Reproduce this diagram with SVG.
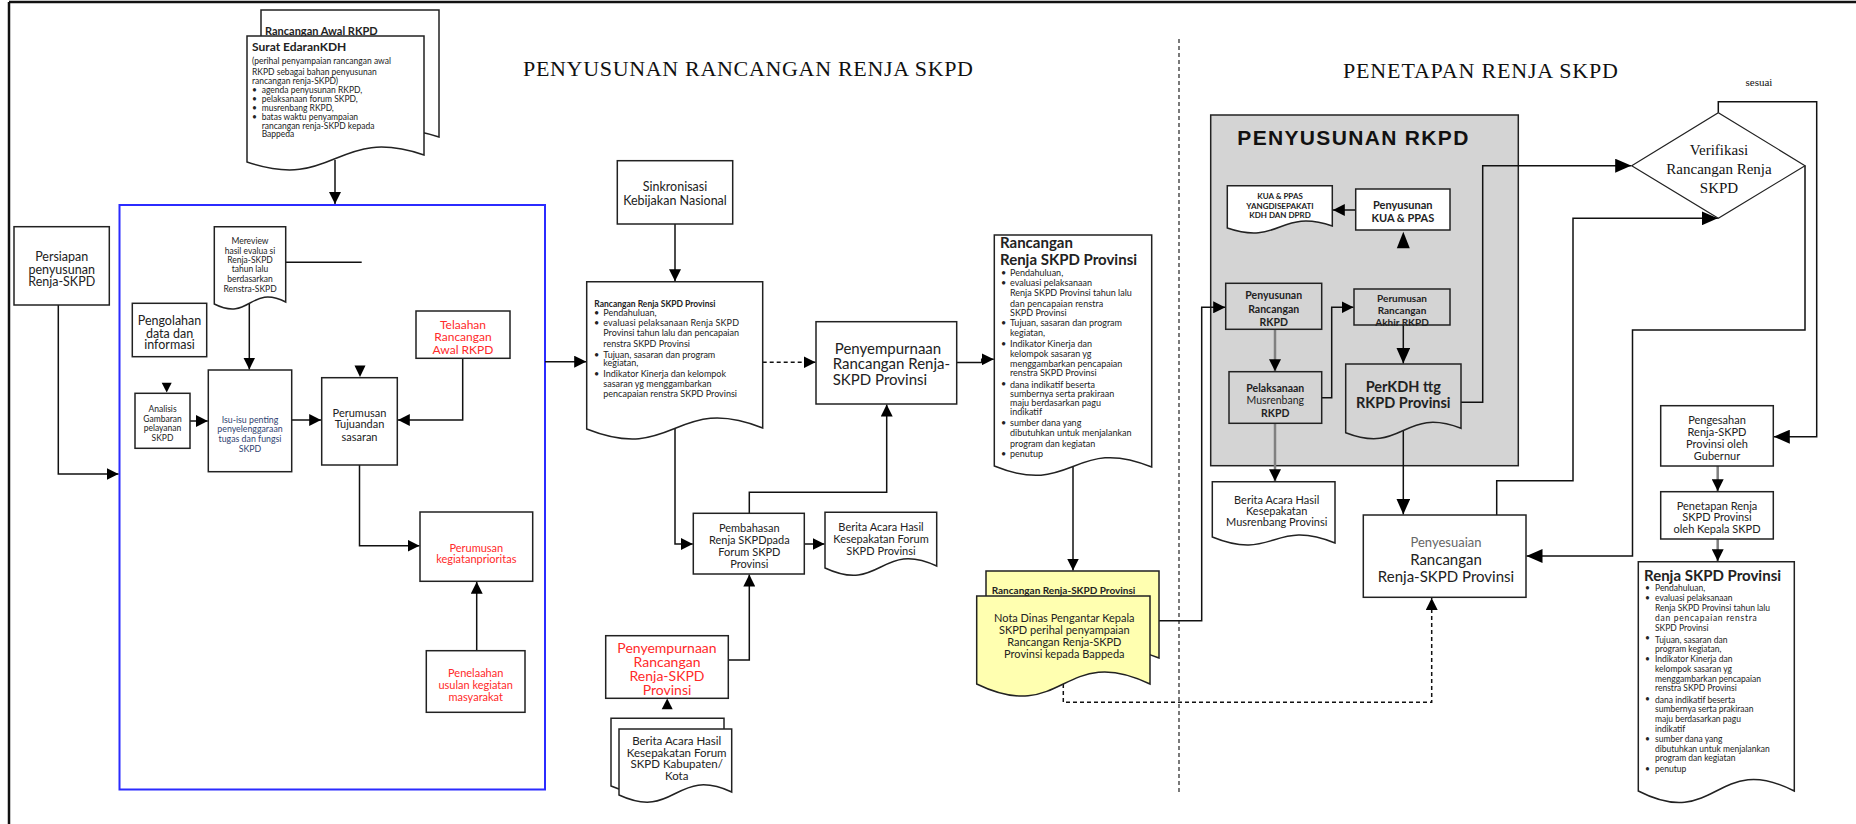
<svg xmlns="http://www.w3.org/2000/svg" width="1856" height="824" viewBox="0 0 1856 824">
<defs>
<marker id="ah" markerUnits="userSpaceOnUse" markerWidth="12" markerHeight="12" refX="12" refY="6" orient="auto"><path d="M0,0 L12,6 L0,12 Z" fill="#000"/></marker>
<marker id="ahb" markerUnits="userSpaceOnUse" markerWidth="16" markerHeight="14" refX="16" refY="7" orient="auto"><path d="M0,0 L16,7 L0,14 Z" fill="#000"/></marker>
<style>
.bx{fill:#fff;stroke:#222;stroke-width:1.5}
.gb{fill:#d4d4d4;stroke:#222;stroke-width:1.5}
.yl{fill:#ffffb0;stroke:#222;stroke-width:1.5}
.ln{fill:none;stroke:#111;stroke-width:1.5}
.gl{fill:none;stroke:#808080;stroke-width:2.5}
.ar{marker-end:url(#ah)}
.arb{marker-end:url(#ahb)}
.ds{stroke-dasharray:4 3}
.ah{fill:#000}
.s{font-family:Lato,"Liberation Sans",sans-serif;fill:#222}
.c{text-anchor:middle}
.b{font-weight:700}
.red{fill:#ff2a2a}
.ser{font-family:"Liberation Serif","Times New Roman",serif;fill:#111}
</style>
</defs>
<rect x="0" y="0" width="1856" height="824" fill="#fff"/>
<g id="frame" fill="none" stroke="#111">
<path d="M9,2 H1856" stroke-width="2.5"/>
<path d="M9,2 V824" stroke-width="2.5"/>
</g>
<g id="titles">
<text class="ser" x="523" y="76" font-size="22" textLength="450" lengthAdjust="spacing">PENYUSUNAN RANCANGAN RENJA SKPD</text>
<text class="ser" x="1343" y="77.7" font-size="22" textLength="275" lengthAdjust="spacing">PENETAPAN RENJA SKPD</text>
<path d="M1179,39 V793" fill="none" stroke="#222" stroke-width="1.2" stroke-dasharray="4 3"/>
</g>
<g id="n-blue"><rect x="119.5" y="205" width="425.5" height="584.5" fill="none" stroke="#2b2bff" stroke-width="2"/></g>
<g id="n-rkpd">
<rect class="gb" x="1210.7" y="115" width="307.6" height="350.7"/>
<text x="1237.3" y="145" font-family="'Liberation Sans',Arial,sans-serif" font-weight="700" font-size="21" fill="#111" textLength="231" lengthAdjust="spacing">PENYUSUNAN  RKPD</text>
</g>
<g id="connectors">
<path class="ln ar" d="M335,160 V204"/>
<path class="ln ar" d="M58.3,305 V474 H118.5"/>
<path class="ln" d="M285.7,262.3 H361.7"/>
<path class="ln ar" d="M249.3,304 V369.5"/>
<path class="ln ar" d="M190,421 H207.8"/>
<path class="ln ar" d="M291.7,420 H321.2"/>
<path class="ln ar" d="M462.7,358.3 V420 H397.8"/>
<path class="ln ar" d="M359.5,465 V545.7 H419.5"/>
<path class="ln ar" d="M476.7,650.7 V581.8"/>
<path class="ln ar" d="M545,361.7 H586.2"/>
<path class="ln ar" d="M675,224 V281.2"/>
<path class="ln ar ds" d="M762.7,362.3 H815.5"/>
<path class="ln ar" d="M956.7,362.5 H981.7 V359.3 H993.8"/>
<path class="ln ar" d="M675,428 V544 H692.8"/>
<path class="ln ar" d="M804.3,544 H824.5"/>
<path class="ln ar" d="M749.3,513.3 V492.3 H886.7 V404.5"/>
<path class="ln ar" d="M728.3,660 H749.3 V574.5"/>
<path class="ln ar" d="M1073,466 V570.5"/>
<path class="ln ar" d="M1159,620.7 H1201.7 V307.3 H1225.2"/>
<path class="ln ar ds" d="M1063.3,684 V702.3 H1431.7 V598"/>
<path class="ln ar" d="M1355.7,210 H1332.8"/>
<path class="gl ar" d="M1275,329.3 V371.2"/>
<path class="ln ar" d="M1321.7,397.7 H1331.7 V307.3 H1353.5"/>
<path class="ln arb" d="M1403.3,325 V363.5"/>
<path class="ln arb" d="M1403.3,430 V514.5"/>
<path class="gl ar" d="M1275,423.3 V481.2"/>
<path class="ln arb" d="M1461,402.3 H1482.7 V165.7 H1631.2"/>
<path class="ln arb" d="M1496.7,515 V480.7 H1573 V218.3 H1717.8"/>
<path class="ln arb" d="M1805,165.7 V330 H1632.5 V556 H1526.5"/>
<path class="ln arb" d="M1718.3,112.7 V101.7 H1816.7 V436.7 H1773.8"/>
<path class="gl ar" d="M1717.7,466 V491.2"/>
<path class="gl ar" d="M1717.7,539 V561.2"/>
</g>
<g id="n-surat">
<path class="bx" d="M261,10 H439 V137 C350,107 350,180 261,150 Z"/>
<text class="s b" x="265" y="35" font-size="11">Rancangan Awal RKPD</text>
<path class="bx" d="M247,36 H424 V155 C335.5,125 335.5,192 247,162 Z"/>
<text class="s b" x="252" y="51" font-size="12">Surat EdaranKDH</text>
<g class="s" font-size="8.5">
<text x="252" y="64">(perihal penyampaian rancangan awal</text>
<text x="252" y="74.7">RKPD sebagai bahan penyusunan</text>
<text x="252" y="83.7">rancangan renja-SKPD)</text>
<text x="252" y="93">•</text><text x="261.7" y="93">agenda penyusunan RKPD,</text>
<text x="252" y="101.7">•</text><text x="261.7" y="101.7">pelaksanaan forum SKPD,</text>
<text x="252" y="110.7">•</text><text x="261.7" y="110.7">musrenbang RKPD,</text>
<text x="252" y="120.3">•</text><text x="261.7" y="120.3">batas waktu penyampaian</text>
<text x="261.7" y="128.7">rancangan renja-SKPD kepada</text>
<text x="261.7" y="137.3">Bappeda</text>
</g>
</g>
<g id="n-persiapan">
<rect class="bx" x="14" y="226.7" width="95.3" height="78.3"/>
<text class="s c" font-size="12.5"><tspan x="61.7" y="261">Persiapan</tspan><tspan x="61.7" y="273.7">penyusunan</tspan><tspan x="61.7" y="286">Renja-SKPD</tspan></text>
</g>
<g id="n-mereview">
<path class="bx" d="M214.3,226.7 H285.7 V302 C250,284 250,322 214.3,304 Z"/>
<text class="s c" font-size="8.5"><tspan x="250" y="243.7">Mereview</tspan><tspan x="250" y="253.7">hasil evalua si</tspan><tspan x="250" y="262.7">Renja-SKPD</tspan><tspan x="250" y="272">tahun lalu</tspan><tspan x="250" y="282">berdasarkan</tspan><tspan x="250" y="291.7">Renstra-SKPD</tspan></text>
</g>
<g id="n-pengolahan">
<rect class="bx" x="132.3" y="303.3" width="74.4" height="53.4"/>
<text class="s c" font-size="12.5"><tspan x="169.5" y="325.4">Pengolahan</tspan><tspan x="169.5" y="337.7">data dan</tspan><tspan x="169.5" y="349.4">informasi</tspan></text>
</g>
<g id="n-analisis">
<rect class="bx" x="135" y="393.3" width="55" height="55"/>
<polygon class="ah" points="161.7,382.7 171.7,382.7 166.7,392.5"/>
<text class="s c" font-size="8.5"><tspan x="162.5" y="412">Analisis</tspan><tspan x="162.5" y="421.7">Gambaran</tspan><tspan x="162.5" y="431.3">pelayanan</tspan><tspan x="162.5" y="440.7">SKPD</tspan></text>
</g>
<g id="n-isu">
<rect class="bx" x="208.3" y="370" width="83.4" height="101.7"/>
<text class="s c" font-size="8.8" style="fill:#2f4372"><tspan x="250" y="423">Isu-isu penting</tspan><tspan x="250" y="432.3">penyelenggaraan</tspan><tspan x="250" y="442.3">tugas dan fungsi</tspan><tspan x="250" y="452.3">SKPD</tspan></text>
</g>
<g id="n-tujuan">
<rect class="bx" x="321.7" y="377.7" width="75.6" height="87.3"/>
<polygon class="ah" points="354.5,365.5 365.5,365.5 360,377"/>
<text class="s c" font-size="11"><tspan x="359.5" y="416.5">Perumusan</tspan><tspan x="359.5" y="428.1">Tujuandan</tspan><tspan x="359.5" y="440.5">sasaran</tspan></text>
</g>
<g id="n-telaahan">
<rect class="bx" x="416" y="311" width="94" height="47.3"/>
<text class="s c red" font-size="12"><tspan x="463" y="328.5">Telaahan</tspan><tspan x="463" y="341.2">Rancangan</tspan><tspan x="463" y="353.5">Awal RKPD</tspan></text>
</g>
<g id="n-kegiatan">
<rect class="bx" x="420" y="512" width="112.7" height="69.3"/>
<text class="s c red" font-size="11"><tspan x="476.3" y="551.5">Perumusan</tspan><tspan x="476.3" y="563.1">kegiatanprioritas</tspan></text>
</g>
<g id="n-penelaahan">
<rect class="bx" x="426.3" y="650.7" width="98.7" height="61.6"/>
<text class="s c red" font-size="11"><tspan x="475.7" y="676.5">Penelaahan</tspan><tspan x="475.7" y="688.5">usulan kegiatan</tspan><tspan x="475.7" y="700.5">masyarakat</tspan></text>
</g>
<g id="n-sinkronisasi">
<rect class="bx" x="617.3" y="160.7" width="115.4" height="63.3"/>
<text class="s c" font-size="12.5"><tspan x="675" y="191">Sinkronisasi</tspan><tspan x="675" y="205">Kebijakan Nasional</tspan></text>
</g>
<g id="n-rancangan-mid">
<path class="bx" d="M586.7,281.7 H762.7 V428 C674.7,393 674.7,464 586.7,429 Z"/>
<text class="s b" x="594.3" y="307" font-size="8.5">Rancangan Renja SKPD Provinsi</text>
<g class="s" font-size="9">
<text x="594" y="316.3">•</text><text x="603.3" y="316.3">Pendahuluan,</text>
<text x="594" y="326.3">•</text><text x="603.3" y="326.3" textLength="135.7" lengthAdjust="spacing">evaluasi pelaksanaan Renja SKPD</text>
<text x="603.3" y="336.3" textLength="135.7" lengthAdjust="spacing">Provinsi tahun lalu dan pencapaian</text>
<text x="603.3" y="347">renstra SKPD Provinsi</text>
<text x="594" y="357.7">•</text><text x="603.3" y="357.7">Tujuan, sasaran dan program</text>
<text x="603.3" y="366.3">kegiatan,</text>
<text x="594" y="377">•</text><text x="603.3" y="377">Indikator Kinerja dan kelompok</text>
<text x="603.3" y="387">sasaran yg menggambarkan</text>
<text x="603.3" y="397.3">pencapaian renstra SKPD Provinsi</text>
</g>
</g>
<g id="n-penyempurnaan">
<rect class="bx" x="816" y="321.7" width="140.7" height="82.3"/>
<text class="s" font-size="15"><tspan x="888" y="354" text-anchor="middle">Penyempurnaan</tspan><tspan x="832.7" y="369.3">Rancangan  Renja-</tspan><tspan x="832.7" y="384.5">SKPD Provinsi</tspan></text>
</g>
<g id="n-pembahasan">
<rect class="bx" x="693.3" y="513.3" width="111" height="60.7"/>
<text class="s c" font-size="11"><tspan x="749.3" y="532.1">Pembahasan</tspan><tspan x="749.3" y="543.8">Renja SKPDpada</tspan><tspan x="749.3" y="555.8">Forum SKPD</tspan><tspan x="749.3" y="567.8">Provinsi</tspan></text>
</g>
<g id="n-berita-forum">
<path class="bx" d="M825,512.3 H936.7 V566 C880.8,540 880.8,594 825,568 Z"/>
<text class="s c" font-size="11"><tspan x="881" y="531.1">Berita Acara Hasil</tspan><tspan x="881" y="543.1">Kesepakatan Forum</tspan><tspan x="881" y="554.5">SKPD Provinsi</tspan></text>
</g>
<g id="n-penyempurnaan-red">
<rect class="bx" x="605.7" y="635.7" width="122.6" height="62.6"/>
<polygon class="ah" points="661.7,709.3 672.7,709.3 667.2,698.6"/>
<text class="s c red" font-size="14"><tspan x="667" y="652.6">Penyempurnaan</tspan><tspan x="667" y="666.6">Rancangan</tspan><tspan x="667" y="680.9">Renja-SKPD</tspan><tspan x="667" y="694.9">Provinsi</tspan></text>
</g>
<g id="n-berita-kab">
<path class="bx" d="M611,718.3 H724 V783 C667.5,759 667.5,810 611,786 Z"/>
<path class="bx" d="M619,729 H731.7 V792 C675.3,766 675.3,821 619,795 Z"/>
<text class="s c" font-size="11.5"><tspan x="676.7" y="745">Berita Acara Hasil</tspan><tspan x="676.7" y="756.7">Kesepakatan Forum</tspan><tspan x="676.7" y="768.3">SKPD Kabupaten/</tspan><tspan x="676.7" y="780">Kota</tspan></text>
</g>
<g id="n-rancangan-prov">
<path class="bx" d="M994.3,235 H1151.7 V467 C1073,435 1073,498 994.3,466 Z"/>
<text class="s b" font-size="15"><tspan x="1000" y="248.3">Rancangan</tspan><tspan x="1000" y="265">Renja SKPD Provinsi</tspan></text>
<g class="s" font-size="9">
<text x="1001" y="276.3">•</text><text x="1010" y="276.3">Pendahuluan,</text>
<text x="1001" y="286.3">•</text><text x="1010" y="286.3">evaluasi pelaksanaan</text>
<text x="1010" y="295.7">Renja SKPD Provinsi tahun lalu</text>
<text x="1010" y="307" textLength="93.3" lengthAdjust="spacing">dan pencapaian renstra</text>
<text x="1010" y="315.7">SKPD Provinsi</text>
<text x="1001" y="326.3">•</text><text x="1010" y="326.3">Tujuan, sasaran dan program</text>
<text x="1010" y="335.7">kegiatan,</text>
<text x="1001" y="347">•</text><text x="1010" y="347">Indikator Kinerja dan</text>
<text x="1010" y="357">kelompok sasaran yg</text>
<text x="1010" y="367">menggambarkan pencapaian</text>
<text x="1010" y="376.3">renstra SKPD Provinsi</text>
<text x="1001" y="386.7">•</text><text x="1010" y="387.7">dana indikatif beserta</text>
<text x="1010" y="397">sumbernya serta prakiraan</text>
<text x="1010" y="406.3">maju berdasarkan pagu</text>
<text x="1010" y="414.7">indikatif</text>
<text x="1001" y="425.7">•</text><text x="1010" y="425.7">sumber dana  yang</text>
<text x="1010" y="436.3">dibutuhkan untuk menjalankan</text>
<text x="1010" y="447">program dan kegiatan</text>
<text x="1001" y="457.3">•</text><text x="1010" y="457.3">penutup</text>
</g>
</g>
<g id="n-nota">
<path class="yl" d="M986,571 H1159 V658 C1072.5,623 1072.5,695 986,660 Z"/>
<text class="s b" x="991.7" y="593.5" font-size="10">Rancangan Renja-SKPD Provinsi</text>
<path class="yl" d="M976.7,596 H1150 V684 C1063.3,642 1063.3,726 976.7,684 Z"/>
<text class="s c" font-size="11"><tspan x="1064.3" y="622.2">Nota Dinas Pengantar Kepala</tspan><tspan x="1064.3" y="633.9">SKPD perihal penyampaian</tspan><tspan x="1064.3" y="645.9">Rancangan Renja-SKPD</tspan><tspan x="1064.3" y="657.9">Provinsi kepada Bappeda</tspan></text>
</g>
<g id="n-kua-doc">
<path class="bx" d="M1227.3,185.7 H1332.3 V226 C1279.8,208 1279.8,246 1227.3,228 Z"/>
<text class="s c b" font-size="8"><tspan x="1280" y="198.8">KUA &amp; PPAS</tspan><tspan x="1280" y="208.5">YANGDISEPAKATI</tspan><tspan x="1280" y="217.8">KDH DAN DPRD</tspan></text>
</g>
<g id="n-kua">
<rect class="bx" x="1355.7" y="189" width="94.3" height="41"/>
<polygon class="ah" points="1396.8,248.3 1409.8,248.3 1403.3,231.7"/>
<text class="s c b" font-size="11"><tspan x="1402.8" y="208.9">Penyusunan</tspan><tspan x="1402.8" y="221.6">KUA &amp; PPAS</tspan></text>
</g>
<g id="n-pen-rancangan">
<rect class="gb" x="1225.7" y="283.3" width="96" height="46"/>
<text class="s c b" font-size="10.5"><tspan x="1273.7" y="299.4">Penyusunan</tspan><tspan x="1273.7" y="312.7">Rancangan</tspan><tspan x="1273.7" y="326">RKPD</tspan></text>
</g>
<g id="n-pelaksanaan">
<rect class="gb" x="1229" y="371.7" width="92.7" height="51.6"/>
<text class="s c" font-size="10.5"><tspan x="1275.3" y="392" font-weight="700">Pelaksanaan</tspan><tspan x="1275.3" y="403.7">Musrenbang</tspan><tspan x="1275.3" y="417" font-weight="700">RKPD</tspan></text>
</g>
<g id="n-perumusan-akhir">
<rect class="gb" x="1354" y="289" width="96" height="36"/>
<text class="s c b" font-size="10"><tspan x="1402" y="301.8">Perumusan</tspan><tspan x="1402" y="314.2">Rancangan</tspan><tspan x="1402" y="326.2">Akhir RKPD</tspan></text>
</g>
<g id="n-perkdh">
<path class="gb" d="M1345.7,364 H1461 V428.3 C1403.3,406 1403.3,455 1345.7,432.7 Z"/>
<text class="s c b" font-size="14.5"><tspan x="1403.3" y="392.4">PerKDH ttg</tspan><tspan x="1403.3" y="408.4">RKPD Provinsi</tspan></text>
</g>
<g id="n-berita-musrenbang">
<path class="bx" d="M1212.3,481.7 H1335 V543 C1273.6,518 1273.6,562 1212.3,537 Z"/>
<text class="s c" font-size="11"><tspan x="1276.7" y="503.9">Berita Acara Hasil</tspan><tspan x="1276.7" y="514.6">Kesepakatan</tspan><tspan x="1276.7" y="526.2">Musrenbang Provinsi</tspan></text>
</g>
<g id="n-penyesuaian">
<rect class="bx" x="1363.3" y="515" width="162.7" height="82.3"/>
<text class="s c" x="1446" y="546.9" font-size="13" style="fill:#666">Penyesuaian</text>
<text class="s c" font-size="15"><tspan x="1446" y="565.2">Rancangan</tspan><tspan x="1446" y="581.9">Renja-SKPD Provinsi</tspan></text>
</g>
<g id="n-verifikasi">
<polygon points="1631.7,165.7 1718.3,112.7 1805,165.7 1718.3,218.3" fill="#fff" stroke="#222" stroke-width="1.2"/>
<text class="ser c" font-size="15"><tspan x="1719" y="155.2">Verifikasi</tspan><tspan x="1719" y="173.5">Rancangan Renja</tspan><tspan x="1719" y="192.9">SKPD</tspan></text>
<text class="ser c" x="1759" y="86" font-size="11">sesuai</text>
</g>
<g id="n-pengesahan">
<rect class="bx" x="1660.7" y="405.7" width="112.6" height="60.3"/>
<text class="s c" font-size="11"><tspan x="1717" y="423.9">Pengesahan</tspan><tspan x="1717" y="435.9">Renja-SKPD</tspan><tspan x="1717" y="448.4">Provinsi oleh</tspan><tspan x="1717" y="459.9">Gubernur</tspan></text>
</g>
<g id="n-penetapan">
<rect class="bx" x="1660.7" y="491.7" width="112.6" height="47.3"/>
<text class="s c" font-size="11"><tspan x="1717" y="509.6">Penetapan Renja</tspan><tspan x="1717" y="521.2">SKPD Provinsi</tspan><tspan x="1717" y="532.9">oleh Kepala SKPD</tspan></text>
</g>
<g id="n-renja-final">
<path class="bx" d="M1638.3,561.7 H1794.3 V791 C1716.3,751 1716.3,831 1638.3,791 Z"/>
<text class="s b" x="1644" y="581.3" font-size="15">Renja SKPD Provinsi</text>
<g class="s" font-size="8.5">
<text x="1645" y="590.7">•</text><text x="1655" y="590.7">Pendahuluan,</text>
<text x="1645" y="600.7">•</text><text x="1655" y="600.7">evaluasi pelaksanaan</text>
<text x="1655" y="610.7">Renja SKPD Provinsi tahun lalu</text>
<text x="1655" y="620.7" textLength="101.7" lengthAdjust="spacing">dan pencapaian renstra</text>
<text x="1655" y="630.7">SKPD Provinsi</text>
<text x="1645" y="641">•</text><text x="1655" y="643">Tujuan, sasaran dan</text>
<text x="1655" y="652">program kegiatan,</text>
<text x="1645" y="662">•</text><text x="1655" y="662">Indikator Kinerja dan</text>
<text x="1655" y="672">kelompok sasaran yg</text>
<text x="1655" y="682">menggambarkan pencapaian</text>
<text x="1655" y="691.3">renstra SKPD Provinsi</text>
<text x="1645" y="702">•</text><text x="1655" y="703">dana indikatif beserta</text>
<text x="1655" y="712.3">sumbernya serta prakiraan</text>
<text x="1655" y="722">maju berdasarkan pagu</text>
<text x="1655" y="731.7">indikatif</text>
<text x="1645" y="742">•</text><text x="1655" y="742">sumber dana yang</text>
<text x="1655" y="752">dibutuhkan untuk menjalankan</text>
<text x="1655" y="761.3">program dan kegiatan</text>
<text x="1645" y="772">•</text><text x="1655" y="772">penutup</text>
</g>
</g>
</svg>
